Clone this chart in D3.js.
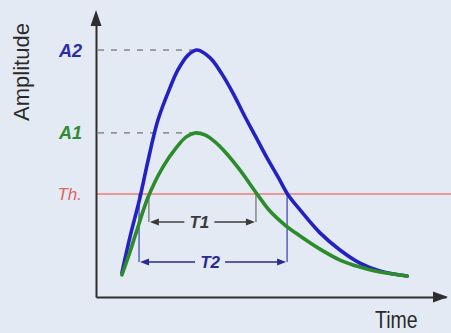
<!DOCTYPE html>
<html>
<head>
<meta charset="utf-8">
<script src="https://cdn.jsdelivr.net/npm/d3@7/dist/d3.min.js"></script>
<style>
  html, body { margin: 0; padding: 0; background: #e3eaf3; }
  svg { display: block; }
  text { font-family: "Liberation Sans", Arial, sans-serif; }
</style>
</head>
<body>
<svg id="chart" width="451" height="333"></svg>
<script>
// Pulse samples: time vs amplitude (arbitrary units)
const timeHigh = [0.74,0.97,1.26,1.49,1.77,2.11,2.34,2.63,2.89,3.26,3.60,3.91,4.26,4.57,4.89,5.20,5.49,5.83,6.40,6.97,7.54,8.11,8.89];
const ampHigh  = [0.86,2.14,3.57,4.89,6.32,7.46,8.11,8.64,8.82,8.54,7.96,7.29,6.43,5.71,4.96,4.29,3.64,3.11,2.29,1.68,1.21,0.93,0.75];
const timeLow  = [0.74,0.97,1.17,1.49,1.91,2.31,2.57,2.83,3.11,3.40,3.69,4.11,4.60,4.97,5.40,5.83,6.40,6.97,7.54,8.11,8.89];
const ampLow   = [0.79,1.61,2.39,3.57,4.64,5.36,5.71,5.86,5.79,5.54,5.18,4.54,3.68,3.07,2.57,2.18,1.71,1.32,1.07,0.89,0.75];

// Reference levels on the amplitude axis
const levelNames  = ["A2", "A1", "Th."];
const levelValues = [8.82, 5.86, 3.68];
const peakTimes   = [2.89, 2.83];

// Time-over-threshold spans
const spanNames = ["T1", "T2"];
const spanStart = [1.51, 1.23];
const spanEnd   = [4.57, 5.46];

const axisNames = ["Time", "Amplitude"];

const svg = d3.select("#chart");
const x = d3.scaleLinear().domain([0, 10]).range([96, 446]);
const y = d3.scaleLinear().domain([0, 10]).range([297, 17]);

const axisColor = "#2e2e2e";
const blue = "#2121c4", green = "#2c8c2c", red = "#ef7a7a";

// Threshold line
svg.append("line")
  .attr("x1", x(0)).attr("x2", 451)
  .attr("y1", y(levelValues[2])).attr("y2", y(levelValues[2]))
  .attr("stroke", red).attr("stroke-width", 1.6);

// Dashed peak guides
[0, 1].forEach(i => {
  svg.append("line")
    .attr("x1", x(0) + 2).attr("x2", x(peakTimes[i]))
    .attr("y1", y(levelValues[i])).attr("y2", y(levelValues[i]))
    .attr("stroke", "#555").attr("stroke-width", 1)
    .attr("stroke-dasharray", "6,7");
});

// Axes (no ticks) with arrow heads
const gx = svg.append("g").attr("transform", `translate(0,${y(0)})`)
  .call(d3.axisBottom(x).tickValues([]).tickSizeOuter(0));
const gy = svg.append("g").attr("transform", `translate(${x(0)},0)`)
  .call(d3.axisLeft(y).tickValues([]).tickSizeOuter(0));
[gx, gy].forEach(g => g.select(".domain").attr("stroke", axisColor).attr("stroke-width", 2));

const xTip = x(10) + 2, yTip = y(10) - 7;
svg.append("path")
  .attr("d", `M${xTip},${y(0)} L${xTip - 15},${y(0) - 5.5} L${xTip - 15},${y(0) + 5.5} Z`)
  .attr("fill", axisColor);
svg.append("path")
  .attr("d", `M${x(0)},${yTip} L${x(0) - 5.5},${yTip + 16} L${x(0) + 5.5},${yTip + 16} Z`)
  .attr("fill", axisColor);

// Time-over-threshold brackets
const spanRowY = [222, 262];
const spanColors = ["#3a3a3a", "#2a2a92"];
const spanTickColors = ["#777", "#4a4ab8"];
spanNames.forEach((name, i) => {
  const x0 = x(spanStart[i]), x1 = x(spanEnd[i]), yy = spanRowY[i];
  const c = spanColors[i];
  [x0, x1].forEach(xv => {
    svg.append("line")
      .attr("x1", xv).attr("x2", xv)
      .attr("y1", y(levelValues[2])).attr("y2", yy)
      .attr("stroke", spanTickColors[i]).attr("stroke-width", 1.3);
  });
  const mid = (x0 + x1) / 2 - 3;
  svg.append("line").attr("x1", x0 + 6).attr("x2", mid - 15)
    .attr("y1", yy).attr("y2", yy).attr("stroke", c).attr("stroke-width", 1.4);
  svg.append("line").attr("x1", mid + 15).attr("x2", x1 - 6)
    .attr("y1", yy).attr("y2", yy).attr("stroke", c).attr("stroke-width", 1.4);
  svg.append("path")
    .attr("d", `M${x0 + 1},${yy} L${x0 + 10},${yy - 3.5} L${x0 + 10},${yy + 3.5} Z`)
    .attr("fill", c);
  svg.append("path")
    .attr("d", `M${x1 - 1},${yy} L${x1 - 10},${yy - 3.5} L${x1 - 10},${yy + 3.5} Z`)
    .attr("fill", c);
  svg.append("text")
    .attr("x", mid).attr("y", yy + 6)
    .attr("text-anchor", "middle")
    .attr("font-size", 17).attr("font-weight", "bold").attr("font-style", "italic")
    .attr("fill", c)
    .text(name);
});

// Pulse curves
const line = d3.line()
  .x(d => x(d[0])).y(d => y(d[1]))
  .curve(d3.curveCatmullRom.alpha(0.5));

svg.append("path")
  .datum(timeHigh.map((t, i) => [t, ampHigh[i]]))
  .attr("d", line).attr("fill", "none")
  .attr("stroke", blue).attr("stroke-width", 3.6)
  .attr("stroke-linecap", "round");
svg.append("path")
  .datum(timeLow.map((t, i) => [t, ampLow[i]]))
  .attr("d", line).attr("fill", "none")
  .attr("stroke", green).attr("stroke-width", 3.6)
  .attr("stroke-linecap", "round");

// Level labels
const levelColors = ["#2a2aaa", "#2e8c2e", "#e26262"];
levelNames.forEach((name, i) => {
  svg.append("text")
    .attr("x", 82).attr("y", y(levelValues[i]) + 6.5)
    .attr("text-anchor", "end")
    .attr("font-size", i === 2 ? 17 : 18)
    .attr("font-weight", i === 2 ? "normal" : "bold")
    .attr("font-style", "italic")
    .attr("fill", levelColors[i])
    .text(name);
});

// Axis titles
svg.append("text")
  .attr("transform", "translate(375,328) scale(1,1.2)")
  .attr("font-size", 19.5).attr("fill", "#2a2a2a")
  .text(axisNames[0]);
svg.append("text")
  .attr("transform", "translate(29,72) rotate(-90)")
  .attr("text-anchor", "middle")
  .attr("font-size", 22).attr("fill", "#2a2a2a")
  .text(axisNames[1]);
</script>
</body>
</html>
